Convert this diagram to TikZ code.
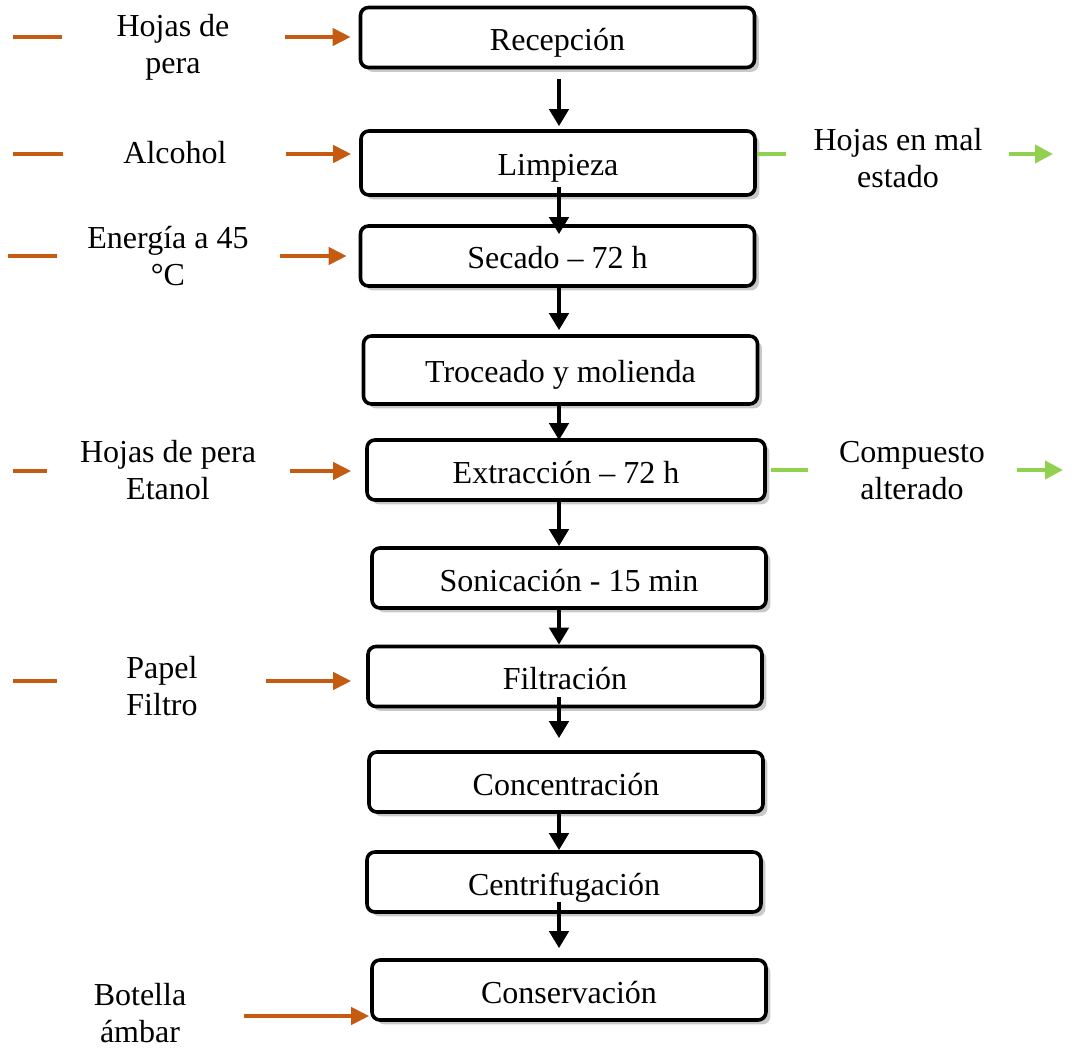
\documentclass[tikz,border=0pt]{standalone}
\usepackage{fontspec}
\setmainfont{Liberation Serif}
\usetikzlibrary{arrows.meta,shadows}
\definecolor{feedc}{HTML}{C55A11}
\definecolor{wastec}{HTML}{92D050}

\begin{document}
\begin{tikzpicture}[
  x=0.5pt, y=-0.5pt,
  box/.style={draw, line width=1.8pt, rounded corners=4pt, fill=white,
    minimum width=197pt, minimum height=30pt, inner sep=0pt,
    text height=14pt, text depth=1pt,
    font=\fontsize{16pt}{18.5pt}\selectfont,
    drop shadow={shadow xshift=2.2pt, shadow yshift=-2.2pt, opacity=0.3, fill=black!70}},
  lbl/.style={align=center, inner sep=0pt, font=\fontsize{16pt}{18.5pt}\selectfont},
  flow/.style={-{Triangle[length=8.5pt,width=9.5pt]}, line width=2pt},
  feed/.style={-{Triangle[length=9pt,width=8.5pt]}, line width=2pt, feedc},
  stub/.style={line width=2pt, feedc},
  waste/.style={-{Triangle[length=9pt,width=9pt]}, line width=2pt, wastec},
  wstub/.style={line width=2pt, wastec}
]
\useasboundingbox (0,0) rectangle (1072,1048);

\node[box] (rec) at (557.5,37.5) {Recepción};
\node[box, minimum height=32pt] (lim) at (558,163) {Limpieza};
\node[box] (sec) at (557.5,256) {Secado – 72 h};
\node[box, minimum height=34pt] (tro) at (560.5,370) {Troceado y molienda};
\node[box, minimum width=199pt] (ext) at (566,470) {Extracción – 72 h};
\node[box] (son) at (569,578) {Sonicación - 15 min};
\node[box] (fil) at (565,676.5) {Filtración};
\node[box] (con) at (566,782) {Concentración};
\node[box] (cen) at (564,882) {Centrifugación};
\node[box] (cons) at (569,990) {Conservación};

\coordinate (ax) at (559,0);
\draw[flow, shorten <=5pt, shorten >=1.5pt] (rec.south -| ax) -- (lim.north -| ax);
\draw[flow, shorten <=-5pt, shorten >=-5pt] (lim.south -| ax) -- (sec.north -| ax);
\draw[flow, shorten >=2pt] (sec.south -| ax) -- (tro.north -| ax);
\draw[flow, shorten >=-1pt] (tro.south -| ax) -- (ext.north -| ax);
\draw[flow] (ext.south -| ax) -- (son.north -| ax);
\draw[flow] (son.south -| ax) -- (fil.north -| ax);
\draw[flow, shorten <=-5.5pt, shorten >=6pt] (fil.south -| ax) -- (con.north -| ax);
\draw[flow] (con.south -| ax) -- (cen.north -| ax);
\draw[flow, shorten <=-6pt, shorten >=5pt] (cen.south -| ax) -- (cons.north -| ax);

\node[lbl] (in1) at (173,47) {Hojas de\\pera};
\node[lbl] (in2) at (175,153) {Alcohol};
\node[lbl] (in3) at (168,256) {Energía a 45\\°C};
\node[lbl] (in4) at (168,470) {Hojas de pera\\Etanol};
\node[lbl] (in5) at (162,686) {Papel\\Filtro};
\node[lbl] (in6) at (140,1013) {Botella\\ámbar};
\node[lbl] (out1) at (898,158) {Hojas en mal\\estado};
\node[lbl] (out2) at (912,471) {Compuesto\\alterado};

\coordinate (s1) at (13,37);
\coordinate (s2) at (13,154);
\coordinate (s3) at (8,256);
\coordinate (s4) at (13,471);
\coordinate (s5) at (13,681);
\draw[stub] (s1) -- ++(49,0);
\draw[stub] (s2) -- ++(50,0);
\draw[stub] (s3) -- ++(49,0);
\draw[stub] (s4) -- ++(34,0);
\draw[stub] (s5) -- ++(44,0);

\coordinate (a1) at (285,37);
\coordinate (a2) at (286,154);
\coordinate (a3) at (280,256);
\coordinate (a4) at (290,471);
\coordinate (a5) at (266,681);
\coordinate (a6) at (244,1016);
\draw[feed, shorten >=4pt] (a1) -- (a1 -| rec.west);
\draw[feed, shorten >=4pt] (a2) -- (a2 -| lim.west);
\draw[feed, shorten >=6pt] (a3) -- (a3 -| sec.west);
\draw[feed, shorten >=7pt] (a4) -- (a4 -| ext.west);
\draw[feed, shorten >=7.5pt] (a5) -- (a5 -| fil.west);
\draw[feed, shorten >=0.5pt] (a6) -- (a6 -| cons.west);

\coordinate (o1) at (786,154);
\coordinate (o2) at (808,470);
\draw[wstub] (o1 -| lim.east) -- (o1);
\draw[wstub] ([xshift=2pt]o2 -| ext.east) -- (o2);
\coordinate (w1) at (1009,154);
\coordinate (w2) at (1017,470);
\draw[waste] (w1) -- ++(44,0);
\draw[waste] (w2) -- ++(46,0);
\end{tikzpicture}
\end{document}
